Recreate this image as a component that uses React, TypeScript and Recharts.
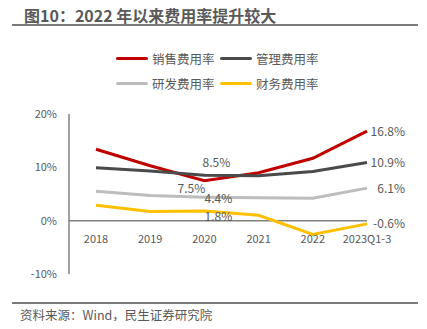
import React from 'react';
import { LineChart, Line, XAxis, YAxis, ReferenceLine, LabelList } from 'recharts';

const years = ['2018', '2019', '2020', '2021', '2022', '2023Q1-3'];
const salesRate = [13.4, 10.3, 7.5, 9.0, 11.7, 16.8];
const adminRate = [9.9, 9.3, 8.5, 8.4, 9.2, 10.9];
const rdRate = [5.5, 4.7, 4.4, 4.3, 4.2, 6.1];
const financeRate = [2.9, 1.7, 1.8, 1.0, -2.6, -0.6];
const yTicks = [-10, 0, 10, 20];

const data = years.map((year, i) => ({
  year,
  sales: salesRate[i],
  admin: adminRate[i],
  rd: rdRate[i],
  finance: financeRate[i],
}));

const FONT = '"Noto Sans CJK SC", "Noto Sans", sans-serif';
const TEXT = '#595959';
const AXIS = '#808080';

const series = [
  { key: 'sales', name: '销售费用率', color: '#C00000', dx: -13, dy: 7, anchor: 'middle' },
  { key: 'admin', name: '管理费用率', color: '#4A4A4A', dx: 12, dy: -14, anchor: 'middle' },
  { key: 'rd', name: '研发费用率', color: '#BDBDBD', dx: 14, dy: 0, anchor: 'middle' },
  { key: 'finance', name: '财务费用率', color: '#FFC000', dx: 14, dy: 4, anchor: 'middle' },
];

// only 2020 and the last point carry a value label
const makeLabel = (dx: number, dy: number, anchor: string) => (props: any) => {
  const { x, y, value, index } = props;
  if (index !== 2 && index !== years.length - 1) return null;
  const last = index === years.length - 1;
  return (
    <text
      x={last ? x + 38 : x + dx}
      y={last ? y - 1 : y + dy}
      textAnchor={last ? 'end' : anchor}
      dominantBaseline="central"
      fill={TEXT}
      fontSize={12}
      fontFamily={FONT}
    >
      {value.toFixed(1)}%
    </text>
  );
};

// x labels sit under the zero line, not at the bottom of the plot
const XTick = (props: any) => {
  const { x, y, payload } = props;
  return (
    <text x={x} y={y - 36} textAnchor="middle" dominantBaseline="central" fill={TEXT} fontSize={11} fontFamily={FONT}>
      {payload.value}
    </text>
  );
};

const ChartLegend = () => (
  <div style={{ position: 'absolute', left: 116, top: 49, display: 'grid', gridTemplateColumns: '104px 104px', rowGap: 7 }}>
    {series.map(s => (
      <div key={s.key} style={{ display: 'flex', alignItems: 'center', height: 18 }}>
        <span style={{ display: 'inline-block', width: 32, height: 3, borderRadius: 2, background: s.color, marginRight: 4 }} />
        <span style={{ fontSize: 12.5, color: TEXT, whiteSpace: 'nowrap' }}>{s.name}</span>
      </div>
    ))}
  </div>
);

export default function App() {
  return (
    <div style={{ position: 'relative', width: 427, height: 329, margin: -8, background: '#fff', fontFamily: FONT }}>
      <div style={{ position: 'absolute', left: 24, top: 4, fontSize: 16, fontWeight: 700, color: TEXT, lineHeight: '22px', whiteSpace: 'nowrap' }}>
        图10：2022 年以来费用率提升较大
      </div>
      <div style={{ position: 'absolute', left: 12, top: 24, width: 406, height: 2, background: '#7a7a7a' }} />
      <ChartLegend />
      <LineChart width={427} height={329} data={data} margin={{ top: 114, right: 60, left: 29, bottom: 35 }}>
        <XAxis
          dataKey="year"
          axisLine={false}
          tickLine={false}
          tickSize={0}
          tickMargin={0}
          height={20}
          padding={{ left: 27, right: 0 }}
          interval={0}
          tick={XTick}
        />
        <YAxis
          domain={[-10, 20]}
          ticks={yTicks}
          width={40}
          axisLine={{ stroke: AXIS, strokeWidth: 1.5 }}
          tickLine={false}
          tickSize={0}
          tickMargin={12}
          tickFormatter={(v: number) => `${v}%`}
          tick={{ fill: TEXT, fontSize: 11, fontFamily: FONT }}
        />
        <ReferenceLine y={0} stroke={AXIS} strokeWidth={1.5} />
        {series.map(s => (
          <Line
            key={s.key}
            dataKey={s.key}
            name={s.name}
            stroke={s.color}
            strokeWidth={3}
            dot={false}
            type="linear"
            isAnimationActive={false}
          >
            <LabelList dataKey={s.key} content={makeLabel(s.dx, s.dy, s.anchor)} />
          </Line>
        ))}
      </LineChart>
      <div style={{ position: 'absolute', left: 12, top: 302, width: 406, height: 1.5, background: '#7a7a7a' }} />
      <div style={{ position: 'absolute', left: 20, top: 306, fontSize: 12.5, color: TEXT, lineHeight: '18px', whiteSpace: 'nowrap' }}>
        资料来源：Wind，民生证券研究院
      </div>
    </div>
  );
}
